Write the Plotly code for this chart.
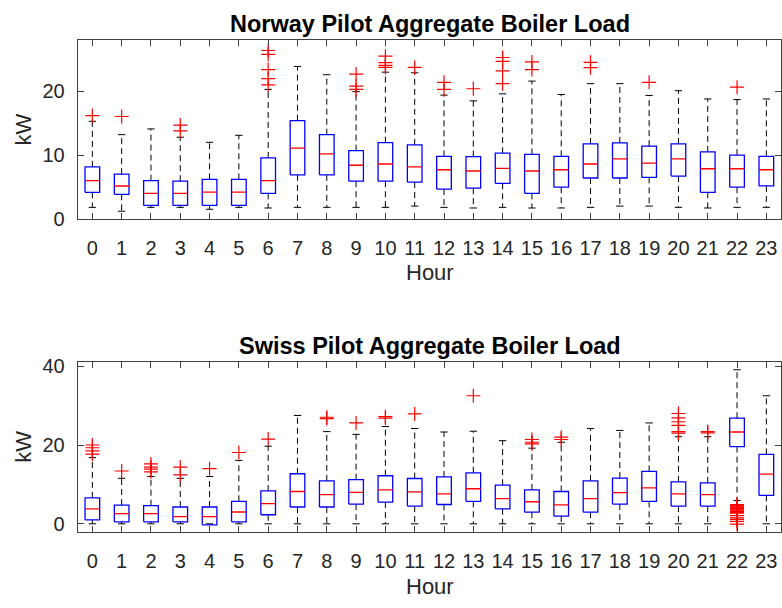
import plotly.graph_objects as go

hours = list(range(24))
hour_labels = [str(h) for h in hours]

# Norway pilot (kW): quartiles, whisker ends, outliers
nor_q1 = [4.15, 3.85, 2.1, 2.1, 2.1, 2.1, 4.0, 6.9, 6.9, 5.9, 5.9, 5.77, 4.66, 4.8, 5.57, 4.0, 4.96, 6.4, 6.4, 6.5, 6.7, 4.15, 4.96, 5.16]
nor_med = [6.0, 5.15, 4.0, 4.0, 4.2, 4.2, 6.0, 11.1, 10.2, 8.4, 8.6, 8.15, 7.7, 7.5, 7.9, 7.5, 7.7, 8.6, 9.4, 8.75, 9.4, 7.85, 7.85, 7.7]
nor_q3 = [8.15, 7.0, 6.0, 5.9, 6.2, 6.2, 9.55, 15.4, 13.2, 10.7, 11.95, 11.6, 9.8, 9.77, 10.3, 10.1, 9.8, 11.75, 11.9, 11.4, 11.75, 10.5, 10.0, 9.8]
nor_lo = [1.8, 1.2, 1.8, 1.8, 1.5, 1.8, 1.7, 1.8, 1.8, 1.8, 1.8, 2.0, 1.8, 1.7, 1.8, 1.7, 1.7, 1.8, 2.0, 2.0, 1.8, 1.7, 1.8, 1.8]
nor_hi = [15.3, 13.2, 14.1, 12.8, 12.0, 13.1, 20.3, 23.9, 22.6, 19.95, 23.0, 22.9, 19.4, 18.5, 19.6, 21.6, 19.5, 21.2, 21.2, 19.35, 20.1, 18.8, 18.7, 18.8]
nor_out = [[16.2], [16.05], [], [14.7, 13.8], [], [], [26.4, 25.8, 23.4, 22.0, 21.0], [], [],
           [22.7, 20.8, 20.3], [25.5, 24.5, 24.05, 23.75], [23.75], [21.4, 20.3], [20.4],
           [25.3, 24.7, 23.2, 21.2], [24.6, 23.4], [], [24.55, 23.7], [], [21.4], [], [], [20.65], []]

# Swiss pilot (kW)
swi_q1 = [1.0, 0.5, 0.5, 0.5, -0.25, 0.5, 2.3, 4.26, 4.26, 5.0, 5.5, 4.5, 4.9, 5.7, 3.8, 2.95, 1.97, 2.95, 5.0, 5.7, 4.5, 4.5, 19.6, 7.2]
swi_med = [3.8, 2.6, 2.6, 1.8, 1.8, 3.0, 5.1, 8.2, 7.4, 8.0, 8.6, 8.1, 7.6, 8.9, 6.4, 5.6, 4.8, 6.4, 7.9, 9.1, 7.6, 7.4, 23.3, 12.6]
swi_q3 = [6.56, 4.75, 4.6, 4.26, 4.26, 5.7, 8.36, 12.7, 10.9, 11.2, 12.2, 11.5, 11.9, 12.95, 9.8, 8.6, 8.2, 10.9, 11.6, 13.3, 10.65, 10.4, 26.8, 17.6]
swi_lo = [0.0, 0.0, 0.0, 0.0, 0.0, 0.0, 0.0, 0.0, 0.0, 0.0, 0.0, 0.0, 0.0, 0.0, 0.0, 0.0, 0.0, 0.0, 0.0, 0.0, 0.0, 0.0, 5.9, 0.0]
swi_hi = [16.8, 11.55, 12.0, 11.55, 12.0, 16.1, 19.7, 27.5, 23.4, 22.7, 24.7, 24.2, 23.3, 23.5, 21.1, 19.2, 20.7, 24.2, 23.7, 25.6, 22.1, 22.1, 39.1, 32.5]
swi_out = [[20.0, 19.3, 18.5, 17.7], [13.4], [15.2, 14.4, 13.9, 13.2], [14.4, 12.4], [14.0], [18.1], [21.5],
           [], [27.05, 26.7], [25.6], [27.2, 26.8], [27.9], [], [32.5], [], [21.4, 20.7, 20.3],
           [22.0, 21.4], [], [], [], [28.0, 26.9, 25.9, 25.0, 23.4, 23.0], [23.4, 23.1],
           [4.9, 4.6, 4.3, 4.1, 3.9, 3.7, 3.5, 3.3, 3.1, 2.9, 2.7, 2.1, 1.5, 1.1, 0.6, -0.1], []]

BOX_HW = 0.25
CAP_HW = 0.125
FONT = "Liberation Sans, Arial, Helvetica, sans-serif"
AXCOL = "#404040"
TXTCOL = "#262626"

fig = go.Figure()


def add_boxes(q1, med, q3, lo, hi, out, xa, ya):
    bx, by, mx, my, wx, wy, cx, cy, ox, oy = [], [], [], [], [], [], [], [], [], []
    for h in hours:
        a, m, b, l, u = q1[h], med[h], q3[h], lo[h], hi[h]
        bx += [h - BOX_HW, h + BOX_HW, h + BOX_HW, h - BOX_HW, h - BOX_HW, None]
        by += [a, a, b, b, a, None]
        mx += [h - BOX_HW, h + BOX_HW, None]
        my += [m, m, None]
        wx += [h, h, None, h, h, None]
        wy += [b, u, None, a, l, None]
        cx += [h - CAP_HW, h + CAP_HW, None, h - CAP_HW, h + CAP_HW, None]
        cy += [u, u, None, l, l, None]
        for v in out[h]:
            ox.append(h)
            oy.append(v)
    common = dict(xaxis=xa, yaxis=ya, showlegend=False, hoverinfo="skip")
    fig.add_trace(go.Scatter(x=wx, y=wy, mode="lines",
                             line=dict(color="black", width=1, dash="6px,4px"), **common))
    fig.add_trace(go.Scatter(x=cx, y=cy, mode="lines",
                             line=dict(color="black", width=1), **common))
    fig.add_trace(go.Scatter(x=bx, y=by, mode="lines",
                             line=dict(color="#0000FF", width=1.3), **common))
    fig.add_trace(go.Scatter(x=mx, y=my, mode="lines",
                             line=dict(color="#FF0000", width=1.3), **common))
    fig.add_trace(go.Scatter(x=ox, y=oy, mode="markers",
                             marker=dict(symbol="cross-thin", size=10,
                                         line=dict(color="#FF0000", width=1.2)), **common))


add_boxes(nor_q1, nor_med, nor_q3, nor_lo, nor_hi, nor_out, "x", "y")
add_boxes(swi_q1, swi_med, swi_q3, swi_lo, swi_hi, swi_out, "x2", "y2")

W, H = 782, 608
x0, x1 = 77.7 / W, 781.0 / W

xaxis_common = dict(range=[-0.5, 23.5], tickmode="array", tickvals=hours, ticktext=hour_labels,
                    ticks="inside", ticklen=6, tickcolor=AXCOL, showline=True, linecolor=AXCOL,
                    linewidth=1, mirror="ticks", showgrid=False, zeroline=False,
                    tickfont=dict(family=FONT, size=20, color=TXTCOL), ticklabelstandoff=11,
                    domain=[x0, x1])
yaxis_common = dict(ticks="inside", ticklen=6, tickcolor=AXCOL, showline=True, linecolor=AXCOL,
                    linewidth=1, mirror="ticks", showgrid=False, zeroline=False,
                    tickfont=dict(family=FONT, size=20, color=TXTCOL), ticklabelstandoff=8)

fig.update_layout(
    width=W, height=H, margin=dict(l=0, r=0, t=0, b=0),
    paper_bgcolor="white", plot_bgcolor="white",
    xaxis=dict(**xaxis_common, anchor="y"),
    yaxis=dict(**yaxis_common, range=[0, 28], tickvals=[0, 10, 20], anchor="x",
               domain=[1 - 218.3 / H, 1 - 34.3 / H]),
    xaxis2=dict(**xaxis_common, anchor="y2"),
    yaxis2=dict(**yaxis_common, range=[-2, 41.1], tickvals=[0, 20, 40], anchor="x2",
                domain=[1 - 540.7 / H, 1 - 365.7 / H]),
)

titles = [("Norway Pilot Aggregate Boiler Load", 18), ("Swiss Pilot Aggregate Boiler Load", 349)]
for text, yc in titles:
    fig.add_annotation(text="<b>%s</b>" % text, xref="paper", yref="paper", x=429.5 / W, y=1 - yc / H,
                       showarrow=False, xanchor="center", yanchor="middle",
                       font=dict(family=FONT, size=23.5, color="black"))
for yc in [274, 597]:
    fig.add_annotation(text="Hour", xref="paper", yref="paper", x=429.5 / W, y=1 - yc / H,
                       showarrow=False, xanchor="center", yanchor="middle",
                       font=dict(family=FONT, size=22, color=TXTCOL))
for yc in [126.3, 453.2]:
    fig.add_annotation(text="kW", xref="paper", yref="paper", x=24 / W, y=1 - yc / H,
                       showarrow=False, xanchor="center", yanchor="middle", textangle=-90,
                       font=dict(family=FONT, size=22, color=TXTCOL))

fig.write_html("out.html")
